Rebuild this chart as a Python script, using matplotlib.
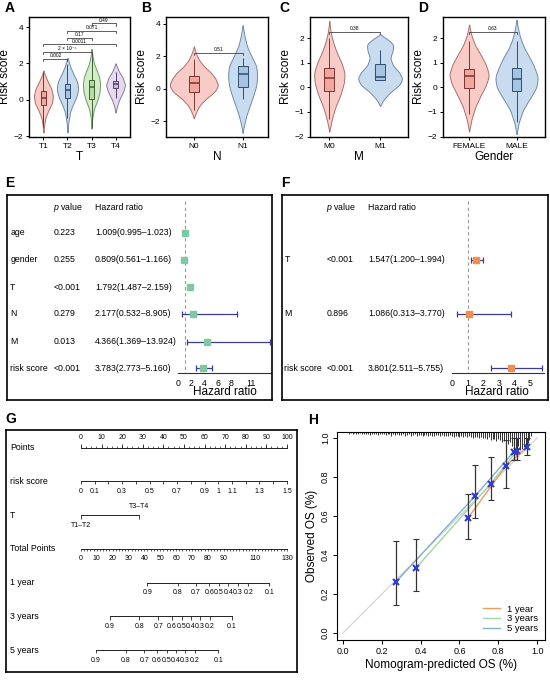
import numpy as np
import matplotlib.pyplot as plt
from matplotlib.patches import Rectangle

plt.rcParams['font.family'] = ['Liberation Sans', 'DejaVu Sans']
plt.rcParams['mathtext.fontset'] = 'custom'
plt.rcParams['mathtext.rm'] = 'Liberation Sans'
plt.rcParams['mathtext.it'] = 'Liberation Sans:italic'

# ------------------------------------------------------
# Violin panels: outline (y level, half width) + box stats
# box = (q1, median, q3, whisker low, whisker high)
# ------------------------------------------------------
t_names = ['T1', 'T2', 'T3', 'T4']
t_prof_y = [[-1.8, -1.4, -1.0, -0.6, -0.2, 0.2, 0.6, 1.0, 1.3, 1.6],
            [-1.8, -1.2, -0.6, -0.2, 0.2, 0.6, 1.0, 1.4, 1.8, 2.1, 2.3],
            [-1.6, -1.0, -0.5, 0.0, 0.4, 0.8, 1.2, 1.6, 2.0, 2.4, 2.8],
            [-0.7, -0.4, 0.0, 0.4, 0.8, 1.2, 1.6, 2.0]]
t_prof_w = [[0, 0.03, 0.08, 0.2, 0.35, 0.4, 0.33, 0.18, 0.08, 0],
            [0, 0.04, 0.12, 0.25, 0.38, 0.45, 0.4, 0.25, 0.12, 0.05, 0],
            [0, 0.03, 0.1, 0.25, 0.33, 0.36, 0.33, 0.22, 0.1, 0.04, 0],
            [0, 0.05, 0.15, 0.3, 0.4, 0.3, 0.12, 0]]
t_box = [(-0.3, 0.12, 0.5, -1.5, 1.5), (0.1, 0.55, 0.85, -1.0, 1.95),
         (0.05, 0.72, 1.1, -1.5, 2.6), (0.65, 0.85, 1.05, 0.1, 1.55)]
t_pairs = [(1, 2), (1, 3), (1, 4), (2, 3), (2, 4), (3, 4)]
t_pvals = ['0.002', '2 × 10⁻⁵', '0.0011', '0.17', '0.071', '0.49']
t_bracket_y = [2.25, 2.65, 3.05, 3.4, 3.8, 4.2]

n_names = ['N0', 'N1']
n_prof_y = [[-1.8, -1.4, -1.0, -0.6, -0.2, 0.2, 0.6, 1.0, 1.4, 1.8, 2.2, 2.6],
            [-2.7, -2.2, -1.6, -1.0, -0.4, 0.2, 0.8, 1.4, 2.0, 2.6, 3.2, 3.9]]
n_prof_w = [[0, 0.05, 0.12, 0.25, 0.42, 0.5, 0.45, 0.35, 0.2, 0.1, 0.04, 0],
            [0, 0.03, 0.08, 0.15, 0.22, 0.28, 0.3, 0.28, 0.18, 0.09, 0.04, 0]]
n_box = [(-0.2, 0.38, 0.78, -1.3, 1.8), (0.12, 0.92, 1.4, -0.6, 1.9)]
n_pval, n_bracket_y = '0.51', 2.2

m_names = ['M0', 'M1']
m_prof_y = [[-1.8, -1.3, -0.8, -0.3, 0.2, 0.6, 1.0, 1.4, 1.8, 2.2, 2.7],
            [-0.75, -0.5, -0.2, 0.1, 0.35, 0.6, 0.9, 1.2, 1.5, 1.75, 1.95, 2.15]]
m_prof_w = [[0, 0.05, 0.12, 0.22, 0.29, 0.3, 0.24, 0.15, 0.08, 0.03, 0],
            [0, 0.07, 0.2, 0.38, 0.44, 0.38, 0.25, 0.2, 0.25, 0.26, 0.15, 0]]
m_box = [(-0.16, 0.37, 0.78, -1.3, 2.0), (0.31, 0.43, 0.95, 0.3, 1.5)]
m_pval, m_bracket_y = '0.38', 2.25

g_names = ['FEMALE', 'MALE']
g_prof_y = [[-1.8, -1.3, -0.8, -0.3, 0.1, 0.5, 0.9, 1.3, 1.7, 2.1, 2.55],
            [-1.9, -1.4, -0.9, -0.4, 0.0, 0.4, 0.8, 1.2, 1.6, 2.0, 2.4, 2.75]]
g_prof_w = [[0, 0.05, 0.13, 0.25, 0.36, 0.42, 0.36, 0.25, 0.13, 0.05, 0],
            [0, 0.05, 0.14, 0.3, 0.42, 0.45, 0.38, 0.28, 0.16, 0.08, 0.03, 0]]
g_box = [(-0.03, 0.45, 0.75, -1.1, 1.9), (-0.16, 0.33, 0.78, -1.4, 1.9)]
g_pval, g_bracket_y = '0.63', 2.25

# ------------------------------------------------------
# Forest plots (E: univariate, F: multivariate)
# ------------------------------------------------------
e_vars = ['age', 'gender', 'T', 'N', 'M', 'risk score']
e_p = ['0.223', '0.255', '<0.001', '0.279', '0.013', '<0.001']
e_hr = [1.009, 0.809, 1.792, 2.177, 4.366, 3.783]
e_lo = [0.995, 0.561, 1.487, 0.532, 1.369, 2.773]
e_hi = [1.023, 1.166, 2.159, 8.905, 13.924, 5.160]
e_ticks = [0, 2, 4, 6, 8, 11]

f_vars = ['T', 'M', 'risk score']
f_p = ['<0.001', '0.896', '<0.001']
f_hr = [1.547, 1.086, 3.801]
f_lo = [1.200, 0.313, 2.511]
f_hi = [1.994, 3.770, 5.755]
f_ticks = [0, 1, 2, 3, 4, 5]

# ------------------------------------------------------
# Nomogram (G): positions in points / total points
# ------------------------------------------------------
nomo_rows = ['Points', 'risk score', 'T', 'Total Points', '1 year', '3 years', '5 years']
pts_labels = [0, 10, 20, 30, 40, 50, 60, 70, 80, 90, 100]
risk_labels = [0, 0.1, 0.3, 0.5, 0.7, 0.9, 1, 1.1, 1.3, 1.5]
risk_max = 1.5
t_levels = ['T1–T2', 'T3–T4']
t_level_pts = [0, 28]
total_labels = [0, 10, 20, 30, 40, 50, 60, 70, 80, 90, 110, 130]
total_max = 130
surv_labels = ['0.9', '0.8', '0.7', '0.6', '0.5', '0.4', '0.3', '0.2', '0.1']
surv_1y = [42, 61, 72.6, 81, 87, 93, 99, 105.7, 119]
surv_3y = [18.3, 36.8, 48.8, 57.3, 63.6, 69.3, 75.2, 81.5, 95.2]
surv_5y = [9.5, 28.4, 40, 47.8, 54.1, 59.8, 65.7, 72, 86.7]

# ------------------------------------------------------
# Calibration (H)
# ------------------------------------------------------
cal_labels = ['1 year', '3 years', '5 years']
cal_pred = [[0.644, 0.838, 0.949], [0.376, 0.761, 0.897], [0.273, 0.679, 0.88]]
cal_obs = [[0.59, 0.855, 0.955], [0.333, 0.766, 0.935], [0.262, 0.70, 0.93]]
cal_lo = [[0.48, 0.745, 0.91], [0.215, 0.68, 0.885], [0.145, 0.59, 0.885]]
cal_hi = [[0.713, 0.99, 1.0], [0.482, 0.90, 1.0], [0.47, 0.86, 1.0]]
cal_colors = ['#ee9a5a', '#9fd4a8', '#7fb0cf']
rug_x = np.round(np.arange(0.03, 0.975, 0.01), 2)
rug_h = [0.008, 0.006, 0.01, 0.007, 0.012, 0.008, 0.006, 0.01, 0.009, 0.012,
         0.01, 0.014, 0.008, 0.012, 0.01, 0.015, 0.009, 0.012, 0.011, 0.016,
         0.012, 0.01, 0.018, 0.012, 0.014, 0.01, 0.016, 0.013, 0.012, 0.018,
         0.014, 0.012, 0.02, 0.015, 0.012, 0.018, 0.014, 0.016, 0.02, 0.013,
         0.016, 0.02, 0.014, 0.018, 0.022, 0.015, 0.017, 0.02, 0.016, 0.022,
         0.018, 0.022, 0.016, 0.02, 0.025, 0.018, 0.021, 0.024, 0.019, 0.026,
         0.022, 0.028, 0.02, 0.025, 0.03, 0.024, 0.028, 0.032, 0.026, 0.03,
         0.03, 0.035, 0.028, 0.04, 0.034, 0.038, 0.045, 0.036, 0.042, 0.05,
         0.048, 0.055, 0.062, 0.05, 0.07, 0.065, 0.08, 0.072, 0.09, 0.085,
         0.075, 0.07, 0.055, 0.04, 0.02]

W, H = 550, 680
fig = plt.figure(figsize=(5.5, 6.8), dpi=100)


def px_axes(x0, y0, x1, y1):
    return fig.add_axes([x0 / W, 1 - y1 / H, (x1 - x0) / W, (y1 - y0) / H])


# (violin fill, violin outline, box fill, box edge)
pink = ('#f8cbc6', '#a8706b', '#f2a6a0', '#7a3430')
blue = ('#c9dcef', '#6f8aa6', '#a6c3e3', '#2f4d6e')
green = ('#d5ecca', '#74966a', '#b6dca2', '#3c6332')
lilac = ('#e7daef', '#8b7a9c', '#cdb9e0', '#54406a')


def violin_panel(ax, names, prof_y, prof_w, boxes, cols, ylim, yticks, xlabel, xlim):
    for i in range(len(names)):
        pos = i + 1
        yy = np.linspace(prof_y[i][0], prof_y[i][-1], 300)
        ww = np.interp(yy, prof_y[i], prof_w[i])
        k = np.hanning(31)
        k /= k.sum()
        ww = np.convolve(np.pad(ww, 15), k, mode='same')[15:-15]
        ax.fill_betweenx(yy, pos - ww, pos + ww, facecolor=cols[i][0],
                         edgecolor=cols[i][1], lw=0.7)
        q1, med, q3, lo, hi = boxes[i]
        ax.vlines(pos, lo, q1, color=cols[i][3], lw=0.7)
        ax.vlines(pos, q3, hi, color=cols[i][3], lw=0.7)
        ax.add_patch(Rectangle((pos - 0.1, q1), 0.2, q3 - q1, facecolor=cols[i][2],
                               edgecolor=cols[i][3], lw=0.7))
        ax.hlines(med, pos - 0.1, pos + 0.1, color=cols[i][3], lw=1.1)
    ax.set_xlim(*xlim)
    ax.set_ylim(*ylim)
    ax.set_yticks(yticks)
    ax.set_yticklabels(['−%g' % -t if t < 0 else '%g' % t for t in yticks])
    ax.set_xticks(range(1, len(names) + 1))
    ax.set_xticklabels(names)
    ax.tick_params(labelsize=6, length=2.5, width=0.7, pad=1.5)
    ax.set_ylabel('Risk score', fontsize=8.5, labelpad=2)
    ax.set_xlabel(xlabel, fontsize=8.5, labelpad=1)
    for s in ax.spines.values():
        s.set_linewidth(1.0)


def bracket(ax, a, b, y, label, tip=0.12):
    ax.plot([a, a, b, b], [y - tip, y, y, y - tip], color='#444444', lw=0.6)
    ax.text((a + b) / 2, y + 0.03, label, ha='center', va='bottom', fontsize=3.5)


axA = px_axes(29, 17, 130, 137)
violin_panel(axA, t_names, t_prof_y, t_prof_w, t_box, [pink, blue, green, lilac],
             (-2.05, 4.55), [-2, 0, 2, 4], 'T', (0.4, 4.6))
for (a, b), p, y in zip(t_pairs, t_pvals, t_bracket_y):
    bracket(axA, a, b, y, p)

axB = px_axes(166, 17, 268, 137)
violin_panel(axB, n_names, n_prof_y, n_prof_w, n_box, [pink, blue],
             (-2.95, 4.4), [-2, 0, 2, 4], 'N', (0.43, 2.52))
bracket(axB, 1, 2, n_bracket_y, n_pval)

axC = px_axes(310, 17, 408, 137)
violin_panel(axC, m_names, m_prof_y, m_prof_w, m_box, [pink, blue],
             (-2.02, 2.86), [-2, -1, 0, 1, 2], 'M', (0.62, 2.55))
bracket(axC, 1, 2, m_bracket_y, m_pval, tip=0.08)

axD = px_axes(443, 17, 545, 137)
violin_panel(axD, g_names, g_prof_y, g_prof_w, g_box, [pink, blue],
             (-2.02, 2.86), [-2, -1, 0, 1, 2], 'Gender', (0.45, 2.6))
bracket(axD, 1, 2, g_bracket_y, g_pval, tip=0.08)


# ------------------------------------------------------
# Forest plots
# ------------------------------------------------------
def forest(ax, names, pvals, hr, lo, hi, rows, ticks, axis_end, xl, xp, xh, xlab, color):
    ax.set_ylim(1, 0)
    ax.set_xticks([])
    ax.set_yticks([])
    for s in ax.spines.values():
        s.set_linewidth(1.2)
    ax.text(xp, 0.06, '$p$ value', va='center', fontsize=6.3)
    ax.text(xh, 0.06, 'Hazard ratio', va='center', fontsize=6.3)
    ax.plot([1, 1], [0.03, 0.869], ls=(0, (3, 2.5)), color='#999999', lw=0.8)
    for i in range(len(names)):
        y = rows[i]
        ax.text(xl, y, names[i], va='center', fontsize=6.3)
        ax.text(xp, y, pvals[i], va='center', fontsize=6.3)
        ax.text(xh, y, '%.3f(%.3f–%.3f)' % (hr[i], lo[i], hi[i]), va='center', fontsize=6.3)
        ax.errorbar(hr[i], y, xerr=[[hr[i] - lo[i]], [hi[i] - hr[i]]], fmt='s', ms=4,
                    mfc=color, mec=color, ecolor='#3b3b9e', elinewidth=0.9,
                    capsize=2.5, capthick=0.9, zorder=3)
    ax.plot([0, axis_end], [0.869, 0.869], color='#333333', lw=0.8)
    for t in ticks:
        ax.text(t, 0.918, str(t), ha='center', va='center', fontsize=6.3)
    ax.text(xlab, 0.962, 'Hazard ratio', ha='center', va='center', fontsize=8.5)


e_rows = [0.185, 0.317, 0.45, 0.58, 0.715, 0.844]
f_rows = [0.317, 0.58, 0.844]

axE = px_axes(7, 195, 272, 400)
axE.set_xlim(-25.9, 14.2)
forest(axE, e_vars, e_p, e_hr, e_lo, e_hi, e_rows, e_ticks, 14.0,
       -25.4, -18.9, -12.6, 7.1, '#7dc9a2')

axF = px_axes(282, 195, 548, 400)
axF.set_xlim(-10.9, 6.15)
forest(axF, f_vars, f_p, f_hr, f_lo, f_hi, f_rows, f_ticks, 5.9,
       -10.75, -8.05, -5.4, 2.9, '#ee8f4e')

# ------------------------------------------------------
# Nomogram
# ------------------------------------------------------
axG = px_axes(6, 430, 297, 672)
axG.set_xlim(-36.4, 104.9)
axG.set_ylim(6.65, -0.53)
axG.set_xticks([])
axG.set_yticks([])
for s in axG.spines.values():
    s.set_linewidth(1.2)
lc = '#222222'
fs_row, fs_tick = 6.3, 5
for i, name in enumerate(nomo_rows):
    axG.text(-34.5, i, name, va='center', fontsize=fs_row)

# Points
axG.plot([0, 100], [0, 0], color=lc, lw=0.7)
axG.vlines(np.arange(0, 101, 2.5), 0, -0.06, color=lc, lw=0.5)
axG.vlines(pts_labels, 0, -0.1, color=lc, lw=0.6)
for p in pts_labels:
    axG.text(p, -0.3, str(p), ha='center', va='center', fontsize=fs_tick)

# risk score
rx = [r / risk_max * 100 for r in np.arange(0, risk_max + 0.05, 0.1)]
axG.plot([0, 100], [0.97, 0.97], color=lc, lw=0.7)
axG.vlines(rx, 0.97, 1.08, color=lc, lw=0.6)
for r in risk_labels:
    axG.text(r / risk_max * 100, 1.3, '%g' % r, ha='center', va='center', fontsize=fs_tick)

# T
axG.plot(t_level_pts, [2, 2], color=lc, lw=0.7)
axG.vlines(t_level_pts, 2, 2.1, color=lc, lw=0.6)
axG.text(t_level_pts[1], 1.73, t_levels[1], ha='center', va='center', fontsize=fs_tick)
axG.text(t_level_pts[0], 2.3, t_levels[0], ha='center', va='center', fontsize=fs_tick)

# Total Points
tx = [v / total_max * 100 for v in range(0, total_max + 1, 2)]
axG.plot([0, 100], [3, 3], color=lc, lw=0.7)
axG.vlines(tx, 3, 3.07, color=lc, lw=0.5)
for v in total_labels:
    axG.text(v / total_max * 100, 3.28, str(v), ha='center', va='center', fontsize=fs_tick)

# survival probability rows
for row, sv in zip([4, 5, 6], [surv_1y, surv_3y, surv_5y]):
    xs = [v / total_max * 100 for v in sv]
    axG.plot([xs[0], xs[-1]], [row, row], color=lc, lw=0.7)
    axG.vlines(xs, row, row + 0.1, color=lc, lw=0.6)
    for x, lab in zip(xs, surv_labels):
        axG.text(x, row + 0.3, lab, ha='center', va='center', fontsize=fs_tick)

# ------------------------------------------------------
# Calibration
# ------------------------------------------------------
axH = px_axes(337, 432, 545, 640)
axH.plot([0, 1], [0, 1], color='#d0d0d0', lw=0.8)
axH.vlines(rug_x, 1.03 - np.array(rug_h), 1.03, color='#111111', lw=0.6)
for i in range(3):
    axH.plot(cal_pred[i], cal_obs[i], color=cal_colors[i], lw=1.0, label=cal_labels[i])
for i in range(3):
    obs = np.array(cal_obs[i])
    axH.errorbar(cal_pred[i], obs, yerr=[obs - np.array(cal_lo[i]), np.array(cal_hi[i]) - obs],
                 fmt='none', ecolor='#333333', elinewidth=0.9, capsize=2, capthick=0.8)
    axH.plot(cal_pred[i], obs, 'x', color='#2f3bd6', ms=4.5, mew=1.5)
axH.set_xlim(-0.03, 1.04)
axH.set_ylim(-0.035, 1.03)
axH.set_xticks([0, 0.2, 0.4, 0.6, 0.8, 1.0])
axH.set_yticks([0, 0.2, 0.4, 0.6, 0.8, 1.0])
axH.set_xticklabels(['0.0', '0.2', '0.4', '0.6', '0.8', '1.0'])
axH.set_yticklabels(['0.0', '0.2', '0.4', '0.6', '0.8', '1.0'], rotation=90, va='center')
axH.tick_params(labelsize=6.5, length=3, width=0.7, pad=2)
axH.set_xlabel('Nomogram-predicted OS (%)', fontsize=8.5, labelpad=2)
axH.set_ylabel('Observed OS (%)', fontsize=8.5, labelpad=2)
axH.legend(loc='lower right', frameon=False, fontsize=6.8, handlelength=1.8,
           labelspacing=0.1, borderaxespad=0.3)

# panel letters
for lab, x, y in [('A', 5, 8), ('B', 141, 8), ('C', 279, 8), ('D', 418, 8),
                  ('E', 5, 183), ('F', 281, 183), ('G', 5, 419), ('H', 308, 420)]:
    fig.text(x / W, 1 - y / H, lab, fontsize=10, fontweight='bold', va='center')

fig.savefig('out.png', dpi=100)
